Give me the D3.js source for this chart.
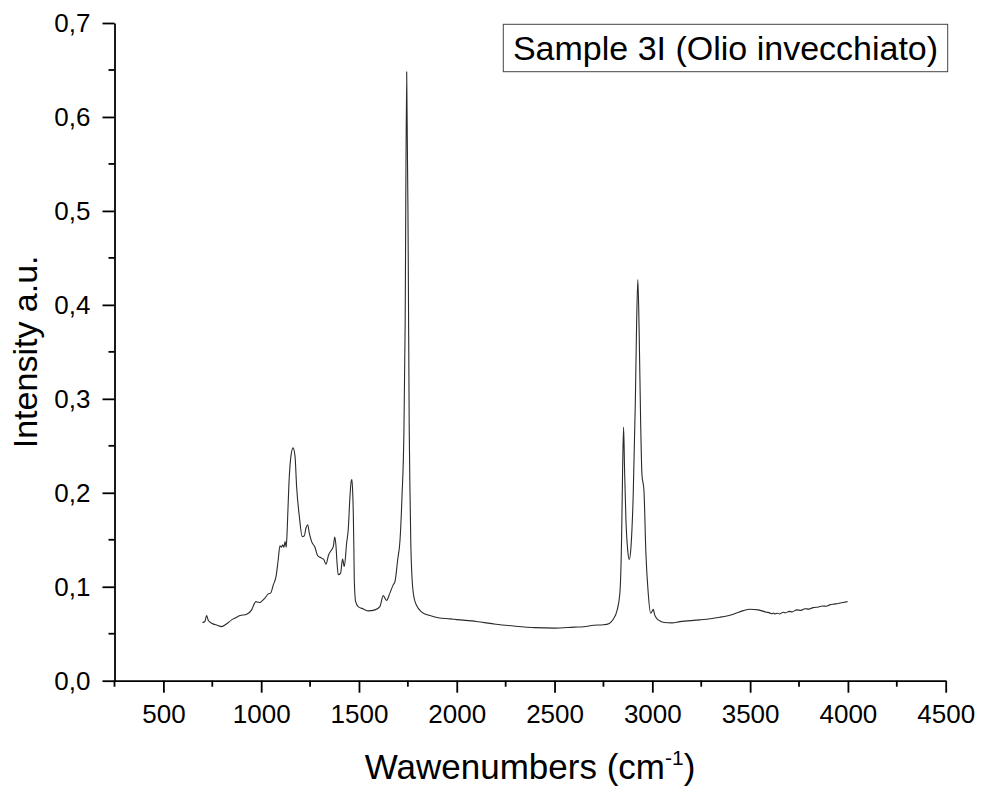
<!DOCTYPE html>
<html>
<head>
<meta charset="utf-8">
<script src="https://cdn.jsdelivr.net/npm/d3@7"></script>
<style>
  html, body { margin: 0; padding: 0; background: #fff; }
  svg { display: block; font-family: Arial, "Liberation Sans", sans-serif; }
</style>
</head>
<body>
<svg id="chart" width="982" height="793"></svg>
<script>
// FTIR spectrum: wavenumber (cm^-1) and absorbance intensity
const wavenumbers = [
  700, 712, 721, 730, 747, 775, 798, 820, 849, 870, 892, 926, 951, 965, 973, 985, 994, 1005,
  1019, 1036, 1048, 1062, 1076, 1087, 1096, 1103, 1110, 1116, 1122, 1128, 1133, 1142, 1152,
  1163, 1173, 1181, 1195, 1210, 1220, 1229, 1238, 1246, 1258, 1275, 1289, 1309, 1321, 1331,
  1345, 1360, 1369, 1376, 1382, 1388, 1394, 1406, 1416, 1425, 1437, 1445, 1454, 1460, 1464,
  1468, 1471, 1474, 1476, 1483, 1496, 1522, 1548, 1582, 1607, 1624, 1641, 1658, 1675, 1684,
  1698, 1710, 1720, 1730, 1736, 1744, 1752, 1757, 1761, 1765, 1772, 1782, 1795, 1821, 1863,
  1905, 1965, 2000, 2100, 2200, 2300, 2400, 2500, 2600, 2650, 2700, 2750, 2780, 2800, 2820,
  2834, 2843, 2848, 2853, 2858, 2865, 2874, 2882, 2891, 2902, 2913, 2920, 2926, 2933, 2940,
  2947, 2957, 2967, 2979, 2991, 3001, 3005, 3012, 3030, 3060, 3100, 3141, 3243, 3346, 3414,
  3465, 3499, 3541, 3584, 3600, 3610, 3620, 3627, 3640, 3650, 3669, 3680, 3700, 3715, 3738,
  3760, 3780, 3800, 3822, 3850, 3870, 3890, 3907, 3930, 3950, 3975, 3998
];
const intensity = [
  0.0618, 0.0630, 0.0693, 0.0640, 0.0612, 0.0590, 0.0576, 0.0600, 0.0647, 0.0670, 0.0693, 0.0708, 0.0754, 0.0820, 0.0842, 0.0835, 0.0832, 0.0850,
  0.0878, 0.0924, 0.0932, 0.1020, 0.1110, 0.1287, 0.1436, 0.1420, 0.1447, 0.1420, 0.1480, 0.1420, 0.1607, 0.2104, 0.2388,
  0.2478, 0.2390, 0.2070, 0.1750, 0.1535, 0.1540, 0.1625, 0.1660, 0.1570, 0.1480, 0.1420, 0.1330, 0.1305, 0.1287, 0.1240,
  0.1340, 0.1393, 0.1429, 0.1530, 0.1447, 0.1250, 0.1127, 0.1145, 0.1294, 0.1215, 0.1465, 0.1607, 0.1960, 0.2120, 0.2140,
  0.2000, 0.1785, 0.1400, 0.1074, 0.0842, 0.0789, 0.0764, 0.0743, 0.0754, 0.0789, 0.0906, 0.0853, 0.0932, 0.1020, 0.1055,
  0.1287, 0.1500, 0.1960, 0.2670, 0.3770, 0.6480, 0.4480, 0.2670, 0.2000, 0.1470, 0.1070, 0.0880, 0.0800, 0.0730, 0.0693,
  0.0670, 0.0658, 0.0650, 0.0630, 0.0600, 0.0580, 0.0565, 0.0560, 0.0570, 0.0575, 0.0590, 0.0595, 0.0610, 0.0654, 0.0750,
  0.0930, 0.1535, 0.2246, 0.2700, 0.2246, 0.1710, 0.1390, 0.1290, 0.1430, 0.1960, 0.2957, 0.3845, 0.4270, 0.3667, 0.2780,
  0.2190, 0.2030, 0.1360, 0.0930, 0.0718, 0.0746, 0.0760, 0.0700, 0.0647, 0.0620, 0.0615, 0.0629, 0.0647, 0.0676, 0.0708,
  0.0746, 0.0761, 0.0754, 0.0729, 0.0722, 0.0712, 0.0720, 0.0711, 0.0718, 0.0710, 0.0729, 0.0722, 0.0738, 0.0732, 0.0754,
  0.0748, 0.0766, 0.0762, 0.0778, 0.0785, 0.0795, 0.0792, 0.0807, 0.0815, 0.0822, 0.0832, 0.0842
];

const xMajorTicks = [500, 1000, 1500, 2000, 2500, 3000, 3500, 4000, 4500];
const xMinorTicks = [250, 750, 1250, 1750, 2250, 2750, 3250, 3750, 4250];
const yMajorTicks = [0.0, 0.1, 0.2, 0.3, 0.4, 0.5, 0.6, 0.7];
const yMinorTicks = [0.05, 0.15, 0.25, 0.35, 0.45, 0.55, 0.65];

const legendText = "Sample 3I (Olio invecchiato)";
const xTitle = "Wawenumbers (cm";
const xTitleSup = "-1";
const yTitle = "Intensity a.u.";

const svg = d3.select("#chart");
const plotLeft = 114.5, plotRight = 945.7, plotTop = 23, plotBottom = 680.7;

const x = d3.scaleLinear().domain([250, 4500]).range([plotLeft, plotRight]);
const y = d3.scaleLinear().domain([0, 0.7]).range([plotBottom, plotTop]);

const itLocale = d3.formatLocale({ decimal: ",", thousands: "", grouping: [3], currency: ["", ""] });
const fmtY = itLocale.format(".1f");

const tickFont = 26;

// X axis: major ticks with labels, minor ticks without
const gx = svg.append("g").attr("transform", `translate(0,${plotBottom})`)
  .call(d3.axisBottom(x).tickValues(xMajorTicks).tickFormat(d3.format("d"))
    .tickSizeInner(12).tickSizeOuter(0).tickPadding(12));
gx.append("g").selectAll("line").data(xMinorTicks).join("line")
  .attr("x1", d => x(d)).attr("x2", d => x(d)).attr("y1", 0).attr("y2", 6);

// Y axis
const gy = svg.append("g").attr("transform", `translate(${plotLeft},0)`)
  .call(d3.axisLeft(y).tickValues(yMajorTicks).tickFormat(fmtY)
    .tickSizeInner(12).tickSizeOuter(0).tickPadding(12));
gy.append("g").selectAll("line").data(yMinorTicks).join("line")
  .attr("y1", d => y(d)).attr("y2", d => y(d)).attr("x1", 0).attr("x2", -6);

[gx, gy].forEach(g => {
  g.selectAll(".domain").attr("stroke", "#000").attr("stroke-width", 1.8);
  g.selectAll("line").attr("stroke", "#000").attr("stroke-width", 1.8);
  g.selectAll("text").attr("font-size", tickFont).attr("fill", "#000")
    .attr("font-family", "Arial, 'Liberation Sans', sans-serif");
});

// Spectrum line
const pts = wavenumbers.map((w, i) => [w, intensity[i]]);
const line = d3.line().x(d => x(d[0])).y(d => y(d[1])).curve(d3.curveMonotoneX);
svg.append("path").datum(pts)
  .attr("d", line)
  .attr("fill", "none")
  .attr("stroke", "#2a2a2a")
  .attr("stroke-width", 1.1)
  .attr("stroke-linejoin", "round");

// Axis titles
const xt = svg.append("text")
  .attr("x", (plotLeft + plotRight) / 2).attr("y", 779)
  .attr("text-anchor", "middle").attr("font-size", 35).attr("fill", "#000");
xt.append("tspan").text(xTitle);
xt.append("tspan").text(xTitleSup).attr("font-size", 21).attr("dy", -14);
xt.append("tspan").text(")").attr("dy", 14);

svg.append("text")
  .attr("transform", `translate(37,${(plotTop + plotBottom) / 2}) rotate(-90)`)
  .attr("text-anchor", "middle").attr("font-size", 34).attr("fill", "#000")
  .text(yTitle);

// Legend box
const box = { x: 503.3, y: 24.3, w: 444.4, h: 47.4 };
svg.append("rect")
  .attr("x", box.x).attr("y", box.y).attr("width", box.w).attr("height", box.h)
  .attr("fill", "#fff").attr("stroke", "#444").attr("stroke-width", 1);
svg.append("text")
  .attr("x", box.x + box.w / 2).attr("y", 60)
  .attr("text-anchor", "middle").attr("font-size", 34).attr("fill", "#000")
  .text(legendText);
</script>
</body>
</html>
